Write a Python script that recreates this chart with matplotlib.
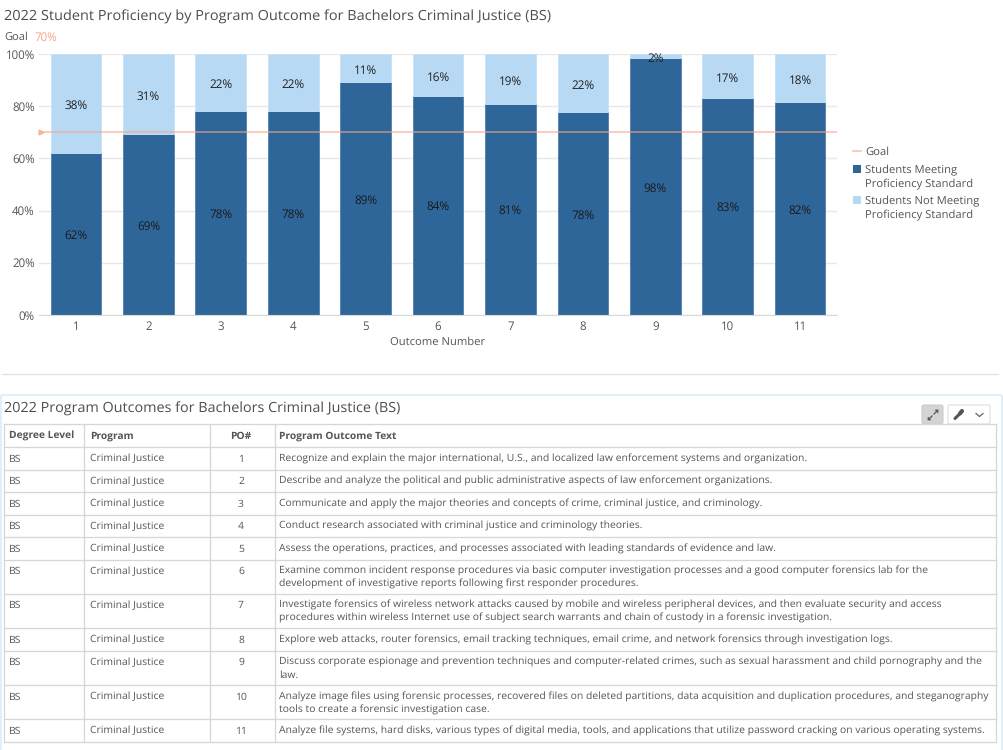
import matplotlib
matplotlib.use("Agg")
import matplotlib.pyplot as plt
from matplotlib.patches import Rectangle, FancyBboxPatch, Polygon

plt.rcParams['font.family'] = ['Open Sans', 'DejaVu Sans']
plt.rcParams['text.hinting'] = 'no_hinting'
plt.rcParams['text.hinting_factor'] = 8

# chart data
outcomes = [1, 2, 3, 4, 5, 6, 7, 8, 9, 10, 11]
meeting = [62, 69, 78, 78, 89, 84, 81, 78, 98, 83, 82]
not_meeting = [38, 31, 22, 22, 11, 16, 19, 22, 2, 17, 18]
# bar heights are a bit off the rounded labels in a few places
meeting_h = [62, 69.3, 78, 78, 89.2, 84, 81, 77.7, 98.3, 83.2, 81.6]
goal = 70
yticks = [0, 20, 40, 60, 80, 100]

# table data
headers = ["Degree Level", "Program", "PO#", "Program Outcome Text"]
degree = ["BS"] * 11
program = ["Criminal Justice"] * 11
po_num = [1, 2, 3, 4, 5, 6, 7, 8, 9, 10, 11]
po_text = [
    "Recognize and explain the major international, U.S., and localized law enforcement systems and organization.",
    "Describe and analyze the political and public administrative aspects of law enforcement organizations.",
    "Communicate and apply the major theories and concepts of crime, criminal justice, and criminology.",
    "Conduct research associated with criminal justice and criminology theories.",
    "Assess the operations, practices, and processes associated with leading standards of evidence and law.",
    "Examine common incident response procedures via basic computer investigation processes and a good computer forensics lab for the\ndevelopment of investigative reports following first responder procedures.",
    "Investigate forensics of wireless network attacks caused by mobile and wireless peripheral devices, and then evaluate security and access\nprocedures within wireless Internet use of subject search warrants and chain of custody in a forensic investigation.",
    "Explore web attacks, router forensics, email tracking techniques, email crime, and network forensics through investigation logs.",
    "Discuss corporate espionage and prevention techniques and computer-related crimes, such as sexual harassment and child pornography and the\nlaw.",
    "Analyze image files using forensic processes, recovered files on deleted partitions, data acquisition and duplication procedures, and steganography\ntools to create a forensic investigation case.",
    "Analyze file systems, hard disks, various types of digital media, tools, and applications that utilize password cracking on various operating systems.",
]

W, H = 1004, 750
DARK = "#2f6699"
LIGHT = "#b7d9f4"
GOALC = "#f4a58a"
TXT = "#555555"

fig = plt.figure(figsize=(W / 100, H / 100), dpi=100, facecolor="white")

# whole figure overlay in pixel coords, for titles and the table
bg = fig.add_axes([0, 0, 1, 1])
bg.set_xlim(0, W)
bg.set_ylim(H, 0)
bg.axis("off")

bg.text(4, 17, "2022 Student Proficiency by Program Outcome for Bachelors Criminal Justice (BS)",
        fontsize=10.41, color="#4d4d4d", va="center")
bg.text(4, 37.5, "Goal", fontsize=8, color=TXT, va="center")
bg.text(34, 37.5, "70%", fontsize=8.3, color="#f4a58a", va="center")

# chart
ax = fig.add_axes([39 / W, 1 - 315 / H, (837 - 39) / W, (315 - 54) / H])
ax.bar(outcomes, meeting_h, width=0.7, color=DARK, edgecolor="#4f7fae", linewidth=0.6, zorder=2)
ax.bar(outcomes, [100 - m for m in meeting_h], bottom=meeting_h, width=0.7, color=LIGHT,
       edgecolor="#c8e2f7", linewidth=0.6, zorder=2)
ax.axhline(goal, color=GOALC, lw=1.3, zorder=3, alpha=0.6)
ax.plot([0.515], [goal], marker=">", ms=3.5, color="#f7b49a", clip_on=False, zorder=4)

for x, m, n, h in zip(outcomes, meeting, not_meeting, meeting_h):
    ax.annotate(f"{m}%", (x, h / 2), xytext=(0, -1.3), textcoords="offset points",
                ha="center", va="center", fontsize=8.5, color="#1a1a1a", zorder=5)
    ax.annotate(f"{n}%", (x, h + (100 - h) / 2), xytext=(0, -1.8), textcoords="offset points",
                ha="center", va="center", fontsize=8.5, color="#222222", zorder=5)

ax.set_xlim(0.489, 11.51)
ax.set_ylim(0, 100)
ax.set_xticks(outcomes)
ax.set_yticks(yticks)
ax.set_yticklabels([f"{t}%" for t in yticks])
ax.tick_params(axis="both", length=0, labelsize=8.3, labelcolor=TXT)
ax.tick_params(axis="x", pad=4)
ax.tick_params(axis="y", pad=3)
ax.set_xlabel("Outcome Number", fontsize=8.1, color=TXT, labelpad=3)
ax.grid(axis="y", color="#e8e8e8", lw=1, zorder=0)
ax.set_axisbelow(True)
for s in ax.spines.values():
    s.set_visible(False)
ax.spines["bottom"].set_visible(True)
ax.spines["bottom"].set_color("#d9d9d9")

# legend by hand, the wrapped entries sit tight
lfs = 8.1
bg.plot([853, 861], [151, 151], color="#f7c4b0", lw=1.2)
bg.text(865, 155, "Goal", fontsize=lfs, color=TXT, va="baseline")
bg.add_patch(Rectangle((853, 165), 8, 8, fc=DARK, lw=0))
bg.text(865, 173, "Students Meeting", fontsize=lfs, color=TXT, va="baseline")
bg.text(865, 187, "Proficiency Standard", fontsize=lfs, color=TXT, va="baseline")
bg.add_patch(Rectangle((853, 196), 8, 8, fc=LIGHT, lw=0))
bg.text(865, 204, "Students Not Meeting", fontsize=lfs, color=TXT, va="baseline")
bg.text(865, 218, "Proficiency Standard", fontsize=lfs, color=TXT, va="baseline")

# divider + table panel
bg.plot([2, 998], [373.5, 373.5], color="#e3e3e3", lw=1)
bg.add_patch(FancyBboxPatch((1, 395), 1001, 370, boxstyle="round,pad=0,rounding_size=2",
                            fc="white", ec="#d5e9f5", lw=1))
bg.text(4, 408.5, "2022 Program Outcomes for Bachelors Criminal Justice (BS)",
        fontsize=10.38, color="#4d4d4d", va="center")

# expand + wrench buttons
bg.add_patch(FancyBboxPatch((922, 405), 21, 19, boxstyle="round,pad=0,rounding_size=2", fc="#d4d4d4", ec="#cccccc", lw=0.8))
bg.plot([934, 937], [414, 411], color="#555555", lw=0.9)
bg.plot([932, 929], [416, 419], color="#555555", lw=0.9)
bg.add_patch(Polygon([(938.5, 409.5), (934.5, 409.8), (938.2, 413.5)], fc="#555555", lw=0))
bg.add_patch(Polygon([(927.5, 420.5), (931.5, 420.2), (927.8, 416.5)], fc="#555555", lw=0))
bg.add_patch(FancyBboxPatch((948, 405), 42, 19, boxstyle="round,pad=0,rounding_size=2", fc="white", ec="#dddddd", lw=0.8))
bg.plot([955, 960], [418.5, 413.5], color="#555555", lw=2.2, solid_capstyle="round")
bg.plot([960, 962], [413.5, 411], color="#555555", lw=3, solid_capstyle="round")
bg.plot([976, 979.5, 983], [413.5, 416.5, 413.5], color="#666666", lw=0.9)

# table grid
col_x = [4, 84, 210, 275, 996]
row_y = [424, 447, 469.5, 492, 514.5, 537, 559.5, 593.5, 628, 650.5, 685, 719, 741.5]
grid_c = "#d6d6d6"
for y in row_y:
    bg.plot([col_x[0], col_x[-1]], [y, y], color=grid_c, lw=0.9)
for x in col_x:
    bg.plot([x, x], [row_y[0], row_y[-1]], color=grid_c, lw=0.9)

hy = row_y[0] + 15
fs = 7.45
hfs = 7.35
bg.text(9, hy, headers[0], fontsize=hfs, color=TXT, va="baseline", fontweight="bold")
bg.text(90, hy, headers[1], fontsize=hfs, color=TXT, va="baseline", fontweight="bold")
bg.text(241, hy, headers[2], fontsize=hfs, color=TXT, va="baseline", ha="center", fontweight="bold")
bg.text(279, hy, headers[3], fontsize=hfs, color=TXT, va="baseline", fontweight="bold")

for i in range(len(po_num)):
    y = row_y[i + 1] + 14.5
    bg.text(9, y, degree[i], fontsize=fs, color=TXT, va="baseline")
    bg.text(90, y, program[i], fontsize=fs, color=TXT, va="baseline")
    bg.text(241, y, str(po_num[i]), fontsize=fs, color=TXT, va="baseline", ha="center")
    for j, line in enumerate(po_text[i].split("\n")):
        bg.text(279, y + j * 13, line, fontsize=fs, color=TXT, va="baseline")

fig.savefig("out.png", dpi=100, facecolor="white")
